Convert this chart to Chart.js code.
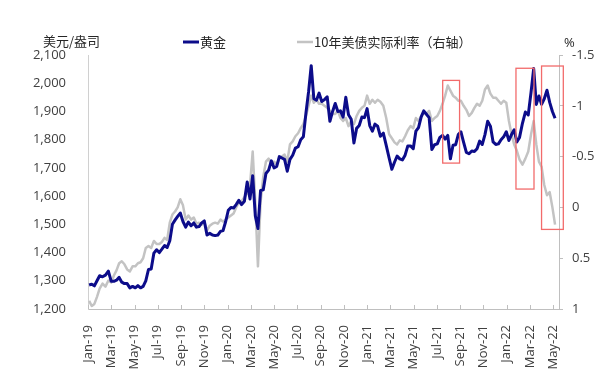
<!DOCTYPE html>
<html>
<head>
<meta charset="utf-8">
<script src="https://cdn.jsdelivr.net/npm/chart.js@4.4.0/dist/chart.umd.min.js"></script>
<style>
html, body { margin: 0; padding: 0; background: #fff; }
#wrap { width: 611px; height: 385px; }
</style>
</head>
<body>
<div id="wrap"><canvas id="c" width="611" height="385"></canvas></div>
<script>
// weekly points, one per Friday, starting 2019-01-04
var firstFriday = [2019, 0, 4];

var xTickLabels = ['Jan-19', 'Mar-19', 'May-19', 'Jul-19', 'Sep-19', 'Nov-19',
	'Jan-20', 'Mar-20', 'May-20', 'Jul-20', 'Sep-20', 'Nov-20',
	'Jan-21', 'Mar-21', 'May-21', 'Jul-21', 'Sep-21', 'Nov-21',
	'Jan-22', 'Mar-22', 'May-22'];

// 黄金, 美元/盎司
var goldPrice = [
	// 2019
	1285, 1288, 1282, 1300,
	1318, 1314, 1320, 1334,
	1298, 1298, 1302, 1312, 1295,
	1290, 1290, 1275, 1280,
	1275, 1283, 1275, 1280, 1300,
	1340, 1342, 1398, 1410,
	1400, 1412, 1425, 1418,
	1442, 1500, 1515, 1528, 1540,
	1510, 1490, 1508, 1495,
	1505, 1490, 1492, 1505,
	1512, 1462, 1468, 1462, 1460,
	1462, 1475, 1478, 1510,
	// 2020
	1550, 1560, 1558, 1570, 1585,
	1570, 1582, 1650, 1590,
	1672, 1530, 1485, 1620,
	1622, 1680, 1692, 1725,
	1700, 1705, 1740, 1735, 1730,
	1688, 1730, 1745, 1770,
	1775, 1800, 1810, 1895, 1970,
	2062, 1945, 1940, 1965,
	1935, 1942, 1952, 1865,
	1900, 1928, 1900, 1902, 1880,
	1950, 1888, 1872, 1788,
	1840, 1850, 1880, 1878,
	// 2021
	1910, 1850, 1830, 1855, 1848,
	1812, 1823, 1780, 1735,
	1695, 1720, 1742, 1732,
	1728, 1745, 1778, 1778, 1768,
	1830, 1843, 1880, 1902,
	1890, 1878, 1765, 1782,
	1785, 1808, 1815, 1802, 1815,
	1732, 1780, 1782, 1818,
	1828, 1790, 1755, 1750,
	1760, 1758, 1768, 1795, 1783,
	1818, 1865, 1848, 1792,
	1783, 1785, 1800, 1810, 1828,
	// 2022
	1797, 1818, 1835, 1792,
	1808, 1858, 1898, 1888,
	1968, 2052, 1925, 1955,
	1925, 1945, 1975, 1932, 1900,
	1876
];

// 10年美债实际利率, %
var realRate = [
	// 2019
	0.92, 0.97, 0.95, 0.88,
	0.80, 0.75, 0.78, 0.72,
	0.74, 0.67, 0.62, 0.55, 0.53,
	0.56, 0.61, 0.63, 0.58,
	0.58, 0.55, 0.54, 0.50, 0.40,
	0.38, 0.40, 0.33, 0.36,
	0.36, 0.34, 0.30, 0.32,
	0.15, 0.07, 0.04, 0.00, -0.08,
	-0.02, 0.12, 0.08, 0.12,
	0.10, 0.16, 0.15, 0.17,
	0.14, 0.23, 0.18, 0.16, 0.15,
	0.16, 0.12, 0.14, 0.12,
	// 2020
	0.10, 0.08, 0.06, 0.00, -0.05,
	-0.06, -0.10, -0.14, -0.22,
	-0.55, -0.05, 0.58, -0.05,
	-0.30, -0.45, -0.48, -0.42,
	-0.45, -0.42, -0.48, -0.50, -0.52,
	-0.45, -0.62, -0.65, -0.70,
	-0.73, -0.78, -0.82, -0.90, -1.00,
	-1.10, -1.03, -1.06, -1.02,
	-1.02, -1.00, -0.98, -0.95,
	-0.92, -0.92, -0.95, -0.88, -0.85,
	-0.88, -0.80, -0.85, -0.82,
	-0.90, -0.95, -0.98, -1.00,
	// 2021
	-1.10, -1.02, -1.06, -1.03, -1.06,
	-1.04, -1.00, -0.88, -0.72,
	-0.68, -0.64, -0.62, -0.66,
	-0.65, -0.70, -0.76, -0.80, -0.78,
	-0.88, -0.85, -0.90, -0.93,
	-0.92, -0.95, -0.85, -0.88,
	-0.90, -0.95, -1.02, -1.10, -1.20,
	-1.15, -1.10, -1.08, -1.05,
	-1.05, -1.00, -0.96, -0.90,
	-0.93, -0.98, -1.02, -1.00, -1.05,
	-1.16, -1.20, -1.12, -1.08,
	-1.08, -1.05, -1.02, -1.05, -1.03,
	// 2022
	-0.85, -0.72, -0.62, -0.56,
	-0.47, -0.42, -0.48, -0.55,
	-0.72, -0.85, -0.62, -0.45,
	-0.40, -0.22, -0.12, -0.15, 0.00,
	0.17
];

// red frames: [from month, to month, gold top, gold bottom]
var highlightBoxes = [
	[30.5, 31.95, 2010, 1717],
	[36.8, 38.35, 2053, 1625],
	[39.0, 40.87, 2061, 1482]
];

// months since Jan-19 for the i-th weekly point
function monthPos(i) {
	var d = new Date(Date.UTC(firstFriday[0], firstFriday[1], firstFriday[2] + i * 7));
	var y = d.getUTCFullYear(), m = d.getUTCMonth(), day = d.getUTCDate();
	var dim = new Date(Date.UTC(y, m + 1, 0)).getUTCDate();
	return (y - 2019) * 12 + m + (day - 1) / dim;
}

var numFont = '"Open Sans", "Noto Sans", sans-serif';
var cjkFont = '"Noto Sans CJK SC", sans-serif';
var axisGrey = '#bfbfbf';

var extras = {
	id: 'extras',
	afterDraw: function(chart) {
		var ctx = chart.ctx;
		var xs = chart.scales.x, ys = chart.scales.y;
		var area = chart.chartArea;
		ctx.save();
		// inward tick marks on the date axis
		ctx.strokeStyle = axisGrey;
		ctx.lineWidth = 1;
		xs.ticks.forEach(function(t) {
			var px = Math.round(xs.getPixelForValue(t.value)) + 0.5;
			ctx.beginPath();
			ctx.moveTo(px, area.bottom);
			ctx.lineTo(px, area.bottom - 4);
			ctx.stroke();
		});
		// red frames
		ctx.strokeStyle = '#f26b6b';
		ctx.lineWidth = 1.3;
		highlightBoxes.forEach(function(b) {
			var x0 = xs.getPixelForValue(b[0]), x1 = xs.getPixelForValue(b[1]);
			var y0 = ys.getPixelForValue(b[2]), y1 = ys.getPixelForValue(b[3]);
			ctx.strokeRect(x0, y0, x1 - x0, y1 - y0);
		});
		// legend
		ctx.lineWidth = 3;
		ctx.strokeStyle = '#0c0c8a';
		ctx.beginPath(); ctx.moveTo(183, 42); ctx.lineTo(199, 42); ctx.stroke();
		ctx.lineWidth = 2.5;
		ctx.strokeStyle = '#c3c3c3';
		ctx.beginPath(); ctx.moveTo(297, 42); ctx.lineTo(313, 42); ctx.stroke();
		ctx.fillStyle = '#262626';
		ctx.textBaseline = 'middle';
		ctx.textAlign = 'left';
		ctx.font = '13px ' + cjkFont;
		ctx.fillText('黄金', 200, 42);
		ctx.fillText('10年美债实际利率（右轴）', 314, 42);
		// axis units
		ctx.fillText('美元/盎司', 43, 41);
		ctx.font = '13px ' + numFont;
		ctx.fillText('%', 564, 43);
		ctx.restore();
	}
};

var ctx = document.getElementById('c').getContext('2d');
var chart = new Chart(ctx, {
	type: 'line',
	data: {
		datasets: [{
			label: '黄金',
			data: goldPrice.map(function(v, i) { return {x: monthPos(i), y: v}; }),
			yAxisID: 'y',
			borderColor: '#0c0c8a',
			borderWidth: 3,
			pointRadius: 0,
			tension: 0,
			borderJoinStyle: 'round'
		}, {
			label: '10年美债实际利率（右轴）',
			data: realRate.map(function(v, i) { return {x: monthPos(i), y: v}; }),
			yAxisID: 'y1',
			borderColor: '#c3c3c3',
			borderWidth: 2.5,
			pointRadius: 0,
			tension: 0,
			borderJoinStyle: 'round'
		}]
	},
	options: {
		responsive: false,
		animation: false,
		devicePixelRatio: 1,
		layout: { padding: { top: 55, left: 0, right: 0, bottom: 0 } },
		plugins: {
			legend: { display: false },
			tooltip: { enabled: false }
		},
		scales: {
			x: {
				type: 'linear',
				min: 0,
				max: 40.5,
				afterFit: function(s) { s.height = 76; },
				grid: { display: false },
				border: { display: true, color: axisGrey, width: 1 },
				ticks: {
					stepSize: 2,
					includeBounds: false,
					autoSkip: false,
					minRotation: 90,
					maxRotation: 90,
					padding: 8,
					color: '#404040',
					font: { family: numFont, size: 13 },
					callback: function(v) { return xTickLabels[v / 2]; }
				}
			},
			y: {
				position: 'left',
				min: 1200,
				max: 2100,
				afterFit: function(s) { s.width = 88; },
				grid: { display: false },
				border: { display: true, color: '#d0d0d0', width: 1 },
				ticks: {
					stepSize: 100,
					padding: 14,
					color: '#404040',
					font: { family: numFont, size: 13 },
					callback: function(v) { return v.toLocaleString('en-US'); }
				}
			},
			y1: {
				position: 'right',
				reverse: true,
				min: -1.5,
				max: 1,
				afterFit: function(s) { s.width = 52; },
				grid: { display: true, drawOnChartArea: false, drawTicks: true, tickLength: 4, color: axisGrey },
				border: { display: true, color: axisGrey, width: 1 },
				ticks: {
					stepSize: 0.5,
					padding: 9,
					color: '#404040',
					font: { family: numFont, size: 13 },
					callback: function(v) { return String(v); }
				}
			}
		}
	},
	plugins: [extras]
});
</script>
</body>
</html>
